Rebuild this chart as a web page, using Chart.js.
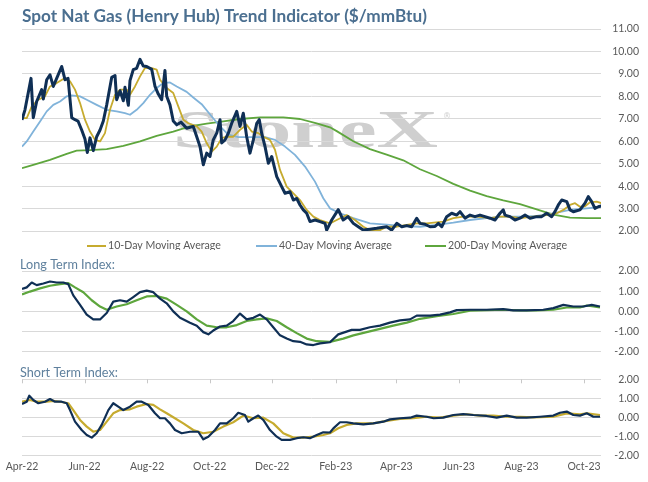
<!DOCTYPE html>
<html><head><meta charset="utf-8">
<script src="https://cdn.jsdelivr.net/npm/chart.js@4.4.0/dist/chart.umd.min.js"></script>
<style>
html,body{margin:0;padding:0;background:#fff;}
#wrap{position:relative;width:648px;height:482px;overflow:hidden;background:#fff;}
canvas{position:absolute;left:0;}
</style></head><body>
<div id="wrap">
<canvas id="c1" width="648" height="250" style="top:0px;width:648px;height:250px"></canvas>
<canvas id="c2" width="648" height="112" style="top:250px;width:648px;height:112px"></canvas>
<canvas id="c3" width="648" height="120" style="top:362px;width:648px;height:120px"></canvas>
</div>
<script>
// ---- x axis: days since 1 Apr 2022 ----
const tickDays   = [0, 61, 122, 183, 244, 306, 365, 426, 487, 548];
const tickLabels = ['Apr-22','Jun-22','Aug-22','Oct-22','Dec-22','Feb-23','Apr-23','Jun-23','Aug-23','Oct-23'];
const xMaxDay = 564.6;

// ---- Spot price ($/mmBtu) ----
const spotDays = [0,2.9,8.8,11,14.3,19.2,20.8,24.1,27.3,30.5,33.8,38.7,41.9,44.9,48.5,51.7,54.6,58.2,61.4,63.7,66.3,69.5,72.8,76.1,79.3,82.6,87.5,90.7,92.3,95.6,98.8,100.4,103.7,105.3,108.5,111.8,115.1,118.3,121.6,126.5,129.7,132.9,136.2,139.4,141.1,144.3,147.5,150.9,155,160.6,167,170.4,173.6,176.8,180.1,183.3,186.5,189.9,193.1,194.7,198,201.2,204.5,209.4,212.6,215.8,219.1,222.3,225.6,228.9,231.4,233.7,237,240.2,243.5,248.4,253.2,256.5,261.3,264.6,267.9,271.1,274.3,277.6,280.8,285.7,290.6,295.5,297.1,302,308.4,313.2,317.9,323.1,327.9,332.8,339.3,345.9,355.6,360.5,365.4,370.3,375.2,380,384.9,388.1,393,397.9,402.7,406,409.3,414.1,419,423.9,427.1,432,436.9,441.7,446.6,451.5,456.4,461.2,466.1,469.3,471,475.9,480.7,485.6,490.5,495.4,501.9,506.8,511.6,516.5,519.7,523,526.3,531.2,534.4,537.6,544.1,549,552.2,555.5,558.7,562,565.3];
const spotPrice = [6.95,7.4,8.8,7.05,7.77,8.3,7.88,8.74,8.96,8.44,8.8,9.33,8.74,8.8,7.05,6.96,6.9,6.5,6.1,5.5,6.15,5.58,6.2,6.5,6.9,7.62,8.85,8.93,7.85,8.25,7.8,8.4,7.6,8.7,9.19,9.25,9.65,9.35,9.33,9.2,8.44,8.1,7.85,9.15,8.0,7.62,6.9,6.73,6.85,6.58,6.66,6.2,5.76,4.95,5.47,5.32,6.06,6.36,6.96,5.92,6.06,6.36,6.8,7.33,6.66,7.25,6.2,5.47,6.06,6.8,6.96,6.36,5.76,5.02,5.32,4.42,3.98,3.68,3.75,3.38,3.45,3.16,2.94,2.79,2.42,2.49,2.42,2.34,2.04,2.49,2.95,2.49,2.64,2.34,2.19,2.04,2.08,2.12,2.19,2.04,2.34,2.19,2.24,2.19,2.57,2.34,2.3,2.19,2.2,2.34,2.19,2.64,2.79,2.71,2.86,2.57,2.71,2.64,2.71,2.64,2.57,2.49,2.79,2.94,2.71,2.64,2.49,2.57,2.71,2.57,2.64,2.64,2.79,2.64,2.86,3.16,3.38,3.31,2.94,2.86,2.94,3.24,3.53,3.31,3.01,3.08,3.12];

// ---- 10-Day Moving Average ----
const ma10Days = [0,4.6,9.5,15.9,22.4,27.3,33.8,41.9,46.8,51.7,56.6,61.4,66.3,71.2,76.1,80.9,85.8,90.7,95.6,102.1,105.3,110.2,115.1,119.9,126.5,131.3,134.6,141.1,147.5,152.4,157.3,162.2,170.4,175.2,180.1,185,189.9,194.7,199.6,206,212.6,219.1,224,230.4,235.3,241.8,246.7,251.6,258.1,264.6,271.1,277.6,284.1,290.6,300.3,306.9,316.6,324.7,332.8,339.3,349.1,355.6,365.4,375.2,384.9,394.6,410.8,420.6,430.3,443.4,456.4,466.1,475.9,485.6,498.6,511.6,521.4,527.9,534.4,539.3,544.1,549,553.9,560.4,565.3];
const ma10Vals = [7.03,7.03,7.55,7.85,8.0,8.44,8.59,8.82,8.67,8.3,7.7,6.96,6.43,6.06,5.99,6.36,7.4,8.07,8.3,8.3,8.07,8.44,8.89,9.26,9.26,9.19,8.74,8.37,8.15,7.55,6.96,6.8,6.66,6.43,5.92,5.54,5.76,6.14,6.2,6.2,6.51,6.73,6.43,6.36,6.2,6.06,5.62,4.72,3.98,3.68,3.38,2.94,2.64,2.49,2.34,2.49,2.71,2.49,2.19,2.04,2.04,2.19,2.19,2.27,2.34,2.34,2.42,2.57,2.64,2.64,2.57,2.64,2.64,2.57,2.64,2.71,2.79,2.94,3.16,3.24,3.08,3.1,3.28,3.31,3.24];

// ---- 40-Day Moving Average ----
const ma40Days = [0,4.6,11,17.6,24.1,30.5,37.1,43.6,48.5,56.6,63.1,72.8,82.6,92.3,100.4,105.3,111.8,118.3,124.8,131.3,137.8,144.3,150.9,160.6,167,175.2,185,193.1,201.2,211,224,237,246.7,256.5,266.2,276,285.7,293.8,300.3,310.1,323.1,339.3,355.6,371.8,388.1,404.4,420.6,436.9,453.1,469.3,485.6,501.9,518.1,534.4,550.7,565.3];
const ma40Vals = [5.76,5.99,6.43,6.88,7.33,7.62,7.77,8.0,8.04,8.0,7.85,7.62,7.4,7.33,7.25,7.18,7.4,7.7,8.07,8.37,8.59,8.62,8.44,8.2,7.95,7.65,7.1,6.66,6.29,6.18,6.18,6.18,6.06,5.76,5.39,4.87,4.2,3.46,3.01,2.79,2.57,2.34,2.28,2.22,2.19,2.27,2.37,2.49,2.57,2.64,2.64,2.67,2.79,2.94,3.01,3.08];

// ---- 200-Day Moving Average ----
const ma200Days = [0,11,27.3,43.6,53.3,66.3,82.6,98.8,115.1,131.3,147.5,163.8,180.1,196.3,212.6,232.1,254.8,271.1,287.4,300.3,306.9,323.1,339.3,355.6,371.8,388.1,404.4,420.6,436.9,453.1,469.3,485.6,501.9,518.1,534.4,550.7,565.3];
const ma200Vals = [4.8,4.95,5.17,5.44,5.58,5.6,5.65,5.79,5.99,6.24,6.43,6.66,6.78,6.88,6.99,7.06,7.06,6.99,6.8,6.62,6.45,6.0,5.65,5.4,5.15,4.75,4.45,4.1,3.8,3.55,3.36,3.2,2.96,2.73,2.6,2.57,2.57];

// ---- Long Term Index ----
const ltDays = [0,4.6,9.5,14.3,20.8,27.3,33.8,40.3,45.1,50,56.6,63.1,69.5,76.1,82.6,89,95.6,102.1,108.5,115.1,121.6,128,134.6,141.1,147.5,154.1,163.8,170.4,176.8,181.7,186.5,193.1,199.6,206,212.6,219.1,225.6,232.1,238.6,245,251.6,258.1,264.6,271.1,277.6,284.1,290.6,300.3,308.4,315,321.5,329.6,339.3,349.1,358.8,368.6,378.4,384.9,397.9,407.6,417.4,423.9,436.9,453.1,469.3,479.1,492.1,508.3,518.1,527.9,537.6,547.4,555.5,563.6];
const ltIndex = [1.11,1.19,1.43,1.3,1.38,1.48,1.43,1.43,1.35,0.79,0.32,-0.16,-0.4,-0.4,-0.08,0.48,0.55,0.48,0.71,0.95,1.03,0.95,0.63,0.4,0.0,-0.32,-0.56,-0.71,-1.03,-1.14,-0.95,-0.75,-0.71,-0.48,-0.11,-0.4,-0.32,-0.16,-0.4,-0.79,-1.19,-1.35,-1.48,-1.51,-1.64,-1.67,-1.59,-1.53,-1.14,-1.03,-0.92,-0.92,-0.79,-0.71,-0.56,-0.45,-0.4,-0.21,-0.21,-0.16,-0.05,0.06,0.08,0.08,0.11,0.05,0.05,0.08,0.16,0.32,0.24,0.24,0.32,0.24];
const ltAvgDays = [0,7.8,17.6,27.3,37.1,45.1,51.7,59.8,68,76.1,82.6,92.3,102.1,111.8,121.6,131.3,141.1,150.9,160.6,170.4,180.1,189.9,199.6,209.4,219.1,228.9,238.6,248.4,258.1,267.9,277.6,287.4,300.3,313.3,323.1,336.1,349.1,362,375.2,388.1,404.4,420.6,436.9,453.1,469.3,485.6,501.9,518.1,531.2,544.1,550.7,563.6];
const ltAvg = [0.84,0.98,1.14,1.27,1.35,1.4,1.19,0.95,0.55,0.24,0.08,0.24,0.35,0.55,0.74,0.76,0.63,0.32,0.0,-0.4,-0.71,-0.79,-0.79,-0.68,-0.48,-0.4,-0.35,-0.48,-0.79,-1.08,-1.35,-1.48,-1.51,-1.35,-1.19,-1.03,-0.87,-0.71,-0.56,-0.37,-0.24,-0.13,0.03,0.06,0.08,0.05,0.05,0.08,0.19,0.19,0.29,0.2];

// ---- Short Term Index ----
const stDays = [0,4.6,7.1,11,15.9,22.4,27.3,32.2,38.7,43.6,46.8,51.7,58.2,63.1,68,72.8,77.7,84.2,89,93.9,98.8,105.3,111.8,116.7,123.2,129.7,134.6,139.4,144.3,149.2,155.7,163.8,171.9,176.8,181.7,188.2,193.1,199.6,206,210.9,217.4,220.7,225.6,230.4,235.3,241.8,248.4,253.2,261.3,267.9,274.3,280.8,287.4,293.8,300.3,303.6,310.1,316.6,323.1,332.8,342.5,352.3,358.8,368.6,378.4,384.9,394.6,401.4,410.8,420.6,430.3,440.1,453.1,462.9,472.6,482.4,492.1,505.1,518.1,524.6,531.2,537.6,544.1,550.7,557.2,563.6];
const stIndex = [0.7,0.82,1.14,0.91,0.74,0.82,0.96,0.82,0.82,0.74,0.38,-0.23,-0.67,-0.93,-1.07,-0.84,-0.4,0.38,0.74,0.56,0.38,0.56,0.82,0.82,0.65,0.21,-0.05,-0.05,-0.32,-0.67,-0.84,-0.76,-0.76,-1.16,-1.02,-0.67,-0.32,-0.32,-0.05,0.24,0.12,-0.23,-0.05,0.09,-0.14,-0.67,-1.02,-1.19,-1.19,-1.1,-1.05,-1.1,-0.93,-0.79,-0.8,-0.58,-0.26,-0.26,-0.32,-0.37,-0.32,-0.23,-0.11,-0.05,-0.02,0.09,0.03,-0.05,-0.02,0.12,0.17,0.12,0.07,-0.02,0.09,-0.02,-0.02,0.03,0.09,0.24,0.3,0.12,0.09,0.21,0.03,0.03];
const stAvgDays = [0,7.8,14.3,24.1,30.5,37.1,45.1,50,56.6,63.1,69.5,76.1,82.6,89,95.6,105.3,111.8,121.6,128,134.6,141.1,147.5,157.3,167,176.8,186.5,196.3,206,215.8,225.6,235.3,245,254.8,264.6,274.3,284.1,293.8,300.3,308.4,316.6,326.3,342.5,355.6,368.6,381.6,394.6,407.6,420.6,433.6,446.6,459.6,472.6,485.6,498.6,518.1,531.2,544.1,550.7,563.6];
const stAvg = [0.82,0.91,0.82,0.82,0.86,0.82,0.74,0.38,-0.14,-0.49,-0.76,-0.67,-0.23,0.21,0.38,0.42,0.56,0.7,0.65,0.42,0.21,0.0,-0.32,-0.67,-0.84,-0.76,-0.49,-0.26,0.09,-0.05,-0.02,-0.32,-0.84,-1.07,-1.07,-1.02,-0.93,-0.84,-0.58,-0.4,-0.32,-0.32,-0.19,-0.09,-0.05,0.03,-0.02,0.09,0.16,0.09,0.09,0.03,0.03,0.0,0.03,0.21,0.16,0.21,0.12];

// ---- styling ----
const NAVY = '#0f2f55', GOLD = '#c6ab2f', BLUE = '#80b3da', GREEN = '#5ea63d';
const GRID = '#d9d9d9', TXT = '#595959', TITLE = '#4b6f90', SUB = '#5f809d';
const FONT = 'Lato, "Open Sans", sans-serif';
const PLOT_LEFT = 22, PLOT_RIGHT = 601, CW = 648, RPAD = 9;

function pts(d, v) { return d.map((x, i) => ({ x: x, y: v[i] })); }
function ds(label, d, v, color, w) {
  return { label: label, data: pts(d, v), borderColor: color, backgroundColor: color,
           borderWidth: w, pointRadius: 0, tension: 0, fill: false, borderJoinStyle: 'round' };
}
function fitFont(ctx, text, width, weight) {
  ctx.font = weight + ' 100px ' + FONT;
  const w = ctx.measureText(text).width;
  return 100 * width / w;
}

function makeOptions(yMin, yMax, padTop, padBottom, showX) {
  return {
    responsive: false, animation: false, events: [],
    layout: { padding: { left: PLOT_LEFT, right: RPAD, top: padTop, bottom: padBottom } },
    plugins: { legend: { display: false }, tooltip: { enabled: false }, title: { display: false } },
    scales: {
      x: {
        type: 'linear', min: 0, max: xMaxDay, display: showX,
        grid: { display: false, drawTicks: false }, border: { display: false },
        afterBuildTicks: (s) => { s.ticks = tickDays.map(v => ({ value: v })); },
        afterFit: (s) => { if (showX) s.height = 26.7; },
        ticks: { autoSkip: false, maxRotation: 0, padding: 5, color: TXT,
                 font: { family: FONT, size: 10.5 },
                 callback: (v) => { const i = tickDays.indexOf(v); return i >= 0 ? tickLabels[i] : ''; } }
      },
      y: {
        position: 'right', min: yMin, max: yMax,
        grid: { color: GRID, lineWidth: 1, drawTicks: false }, border: { display: false },
        afterFit: (s) => { s.width = CW - RPAD - PLOT_RIGHT; },
        ticks: { stepSize: 1, crossAlign: 'far', color: TXT, padding: 4,
                 font: { family: FONT, size: 10.5 },
                 callback: (v) => v.toFixed(2) }
      }
    }
  };
}

// ---- Chart 1: price ----
const top1 = {
  id: 'top1',
  beforeDraw(chart) {
    const ctx = chart.ctx;
    ctx.save();
    ctx.fillStyle = '#cfcfcf';
    const fs = 52;
    ctx.font = 'bold ' + fs + 'px "Liberation Serif", "DejaVu Serif", serif';
    const w = ctx.measureText('StoneX').width;
    ctx.translate(173, 147);
    ctx.scale(265 / w, 1);
    ctx.textBaseline = 'alphabetic';
    ctx.fillText('StoneX', 0, 0);
    ctx.restore();
    ctx.save();
    ctx.fillStyle = '#cfcfcf';
    ctx.font = '8px "DejaVu Sans", sans-serif';
    ctx.fillText('\u00AE', 443, 119);
    ctx.restore();
  },
  afterDraw(chart) {
    const ctx = chart.ctx;
    ctx.save();
    const title = 'Spot Nat Gas (Henry Hub) Trend Indicator ($/mmBtu)';
    const ts = fitFont(ctx, title, 405, 'bold');
    ctx.font = 'bold ' + ts + 'px ' + FONT;
    ctx.fillStyle = TITLE;
    ctx.textBaseline = 'alphabetic';
    ctx.textAlign = 'left';
    ctx.fillText(title, 22, 22);
    // legend
    const items = [
      { t: '10-Day Moving Average', c: GOLD, x0: 87, x1: 106, w: 113 },
      { t: '40-Day Moving Average', c: BLUE, x0: 256, x1: 277, w: 113 },
      { t: '200-Day Moving Average', c: GREEN, x0: 425, x1: 446, w: 120 }
    ];
    const ls = fitFont(ctx, items[0].t, items[0].w, 'normal');
    items.forEach(it => {
      ctx.strokeStyle = it.c; ctx.lineWidth = 2;
      ctx.beginPath(); ctx.moveTo(it.x0, 246); ctx.lineTo(it.x1, 246); ctx.stroke();
      ctx.font = ls + 'px ' + FONT;
      ctx.fillStyle = TXT; ctx.textBaseline = 'middle';
      ctx.fillText(it.t, it.x1 + 2, 246);
    });
    ctx.restore();
  }
};
new Chart(document.getElementById('c1'), {
  type: 'line',
  data: { datasets: [
    ds('Spot', spotDays, spotPrice, NAVY, 3),
    ds('10-Day Moving Average', ma10Days, ma10Vals, GOLD, 1.8),
    ds('40-Day Moving Average', ma40Days, ma40Vals, BLUE, 1.8),
    ds('200-Day Moving Average', ma200Days, ma200Vals, GREEN, 1.8)
  ] },
  options: makeOptions(2, 11, 29, 19, false),
  plugins: [top1]
});

// ---- Chart 2: long term index ----
function subtitle(text, y, width) {
  return {
    id: 'sub' + y,
    afterDraw(chart) {
      const ctx = chart.ctx;
      ctx.save();
      const s = fitFont(ctx, text, width, 'normal');
      ctx.font = s + 'px ' + FONT;
      ctx.fillStyle = SUB; ctx.textBaseline = 'middle'; ctx.textAlign = 'left';
      ctx.fillText(text, 20, y);
      ctx.restore();
    }
  };
}
new Chart(document.getElementById('c2'), {
  type: 'line',
  data: { datasets: [
    ds('Long Term Index', ltDays, ltIndex, NAVY, 2.2),
    ds('Long Term Average', ltAvgDays, ltAvg, GREEN, 2.2)
  ] },
  options: makeOptions(-2, 2, 21, 6.7, false),
  plugins: [subtitle('Long Term Index:', 15, 95)]
});

// ---- Chart 3: short term index ----
const topTicks = {
  id: 'topTicks',
  afterDraw(chart) {
    const ctx = chart.ctx, xs = chart.scales.x, a = chart.chartArea;
    ctx.save();
    ctx.strokeStyle = '#c8c8c8'; ctx.lineWidth = 1;
    tickDays.forEach(d => {
      const px = Math.round(xs.getPixelForValue(d)) + 0.5;
      ctx.beginPath(); ctx.moveTo(px, a.top); ctx.lineTo(px, a.top + 4); ctx.stroke();
    });
    ctx.restore();
  }
};
new Chart(document.getElementById('c3'), {
  type: 'line',
  data: { datasets: [
    ds('Short Term Index', stDays, stIndex, NAVY, 2.2),
    ds('Short Term Average', stAvgDays, stAvg, GOLD, 2.2)
  ] },
  options: makeOptions(-2, 2, 17.3, 0, true),
  plugins: [topTicks, subtitle('Short Term Index:', 11, 98)]
});
</script>
</body></html>
